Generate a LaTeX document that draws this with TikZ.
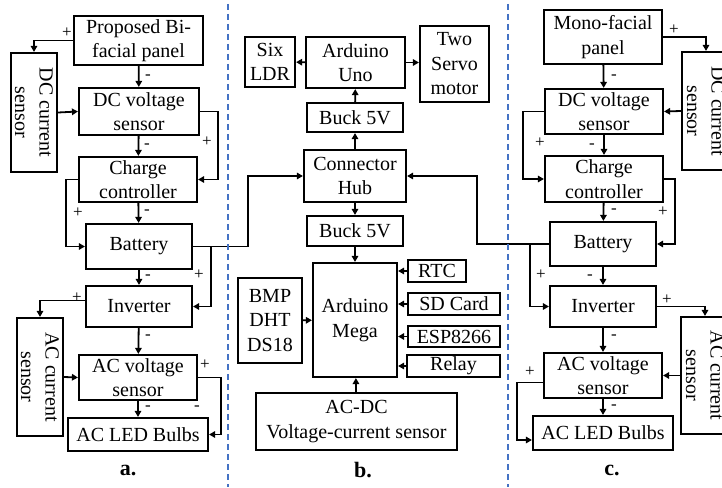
\documentclass[tikz,border=0pt]{standalone}
\usepackage{fontspec}
\setmainfont{Liberation Serif}
\usepackage{xcolor}
\usepackage{tikz}
\usetikzlibrary{arrows.meta, positioning, calc}
\definecolor{sepblue}{RGB}{68, 114, 196}
\tikzstyle{blk} = [rectangle, draw=black, line width=2.2pt, inner sep=0pt, align=center, font=\fontsize{20}{24.5}\selectfont]
\tikzstyle{sensv} = [blk, rotate=-90]
\tikzstyle{pm} = [inner sep=0pt, font=\fontsize{17}{17}\selectfont]
\tikzstyle{paneltag} = [inner sep=0pt, font=\bfseries\fontsize{22}{22}\selectfont]
\tikzstyle{arrow} = [-{Triangle[length=6pt, width=6.5pt]}, line width=1.8pt]
\tikzstyle{sepline} = [draw=sepblue, line width=1.6pt, dash pattern=on 6pt off 4pt]

\begin{document}
\begin{tikzpicture}[x=1pt, y=-1pt]
    \useasboundingbox (0,0) rectangle (722,487);
    \clip (0,0) rectangle (722,487);

    % a. bifacial panel chain
    \node[blk, minimum width=129, minimum height=49] (pva) at (138.5,40.5) {Proposed Bi-\\facial panel};
    \node[sensv, minimum width=119, minimum height=46] (dcia) at (34,112.5) {DC current\\sensor};
    \node[blk, minimum width=120, minimum height=47] (dcva) at (139,111.5) {DC voltage\\sensor};
    \node[blk, minimum width=118, minimum height=45] (cca) at (138,179.5) {Charge\\controller};
    \node[blk, minimum width=106, minimum height=45] (bata) at (139,246.5) {Battery};
    \node[blk, minimum width=106, minimum height=41] (inva) at (139,306.5) {Inverter};
    \node[sensv, minimum width=118, minimum height=46] (acia) at (40,377) {AC current\\sensor};
    \node[blk, minimum width=118, minimum height=45] (acva) at (138,377.5) {AC voltage\\sensor};
    \node[blk, minimum width=140, minimum height=33] (leda) at (138,434.5) {AC LED Bulbs};
    \node[paneltag] (capa) at (128,470) {a.};

    % rotated sensors: west = top edge, north = right edge
    \draw[arrow] (pva.west) -| (dcia.west);
    \draw[arrow] (pva) -- (dcva);
    \draw[arrow] (dcia.north) -- (dcva.west);
    \draw[arrow] (dcva.east) -- ++(18,0) |- (cca.east);
    \draw[arrow] (dcva) -- (cca);
    \draw[arrow] (cca.west) -- ++(-12,0) |- (bata.west);
    \draw[arrow] (cca) -- (bata);
    \draw[arrow] (bata.east) -- ++(18,0) |- (inva.east);
    \draw[arrow] (bata) -- (inva);
    \draw[arrow] ([yshift=6pt]inva.west) -| (acia.west);
    \draw[arrow] (inva) -- (acva);
    \draw[arrow] (acia.north) -- (acva.west);
    \draw[arrow] (acva.east) -- ++(23,0) |- (leda.east);
    \draw[arrow] (acva) -- (leda);

    \node[pm] (pa1) at (67,33) {+};
    \node[pm] (pa2) at (148,77) {-};
    \node[pm] (pa3) at (207,142) {+};
    \node[pm] (pa4) at (147,146) {-};
    \node[pm] (pa5) at (78,213) {+};
    \node[pm] (pa6) at (147,212) {-};
    \node[pm] (pa7) at (148,277) {-};
    \node[pm] (pa8) at (199,275) {+};
    \node[pm] (pa9) at (77,298) {+};
    \node[pm] (pa10) at (148,337) {-};
    \node[pm] (pa11) at (205,365) {+};
    \node[pm] (pa12) at (148,408) {-};
    \node[pm] (pa13) at (197,408) {-};

    % b. monitoring and tracking
    \node[blk, minimum width=50, minimum height=50] (ldr) at (270,62) {Six\\LDR};
    \node[blk, minimum width=99, minimum height=51] (uno) at (355.5,62.5) {Arduino\\Uno};
    \node[blk, minimum width=69, minimum height=76] (servo) at (454.5,64) {Two\\Servo\\motor};
    \node[blk, minimum width=96, minimum height=29] (bucka) at (355,117.5) {Buck 5V};
    \node[blk, minimum width=102, minimum height=52] (hub) at (355,176) {Connector\\Hub};
    \node[blk, minimum width=96, minimum height=30] (buckb) at (355,231) {Buck 5V};
    \node[blk, minimum width=84, minimum height=114] (mega) at (355,320) {Arduino\\Mega};
    \node[blk, minimum width=64, minimum height=85] (bmp) at (270,320.5) {BMP\\DHT\\DS18};
    \node[blk, minimum width=58, minimum height=22] (rtc) at (437,271) {RTC};
    \node[blk, minimum width=92, minimum height=22] (sd) at (454,304) {SD Card};
    \node[blk, minimum width=92, minimum height=21] (esp) at (454,336.5) {ESP8266};
    \node[blk, minimum width=93, minimum height=22] (relay) at (453.5,366) {Relay};
    \node[blk, minimum width=201, minimum height=57] (acdc) at (356.5,421.5) {AC-DC\\Voltage-current sensor};
    \node[paneltag] (capb) at (363,470) {b.};

    \draw[arrow] (uno) -- (ldr);
    \draw[arrow] (uno) -- (servo.west |- uno.east);
    \draw[arrow] (bucka) -- (uno);
    \draw[arrow] (hub) -- (bucka);
    \draw[arrow] (hub) -- (buckb);
    \draw[arrow] (buckb) -- (mega);
    \draw[arrow] (bmp) -- (mega);
    \draw[arrow] (rtc.west) -- (rtc.west -| mega.east);
    \draw[arrow] (sd.west) -- (sd.west -| mega.east);
    \draw[arrow] (esp.west) -- (esp.west -| mega.east);
    \draw[arrow] (relay.west) -- (relay.west -| mega.east);
    \draw[arrow] (acdc) -- (mega);

    % c. monofacial panel chain
    \node[blk, minimum width=118, minimum height=54] (pvc) at (603,37) {Mono-facial\\panel};
    \node[sensv, minimum width=118, minimum height=48] (dcic) at (706,111) {DC current\\sensor};
    \node[blk, minimum width=118, minimum height=45] (dcvc) at (604,111.5) {DC voltage\\sensor};
    \node[blk, minimum width=118, minimum height=46] (ccc) at (604,179) {Charge\\controller};
    \node[blk, minimum width=106, minimum height=44] (batc) at (603,244) {Battery};
    \node[blk, minimum width=106, minimum height=41] (invc) at (603,306.5) {Inverter};
    \node[sensv, minimum width=117, minimum height=48] (acic) at (705,375.5) {AC current\\sensor};
    \node[blk, minimum width=118, minimum height=45] (acvc) at (603,375.5) {AC voltage\\sensor};
    \node[blk, minimum width=140, minimum height=34] (ledc) at (603,433) {AC LED Bulbs};
    \node[paneltag] (capc) at (612,470) {c.};

    % rotated sensors: west = top edge, south = left edge
    \draw[arrow] (pvc.east) -| (dcic.west);
    \draw[arrow] (pvc) -- (dcvc);
    \draw[arrow] (dcic.south) -- (dcvc.east);
    \draw[arrow] (dcvc.west) -- ++(-21,0) |- (ccc.west);
    \draw[arrow] (dcvc) -- (ccc);
    \draw[arrow] (ccc.east) -- ++(11,0) |- (batc.east);
    \draw[arrow] (ccc) -- (batc);
    \draw[arrow] (batc.west) -- ++(-19,0) |- (invc.west);
    \draw[arrow] (batc) -- (invc);
    \draw[arrow] (invc.east) -| (acic.west);
    \draw[arrow] (invc) -- (acvc);
    \draw[arrow] (acic.south) -- (acvc.east);
    \draw[arrow] ([yshift=-7pt]acvc.west) -- ++(-26,0) |- ([yshift=-7pt]ledc.west);
    \draw[arrow] (acvc) -- (ledc);

    \node[pm] (pc1) at (674,30) {+};
    \node[pm] (pc2) at (614,77) {-};
    \node[pm] (pc3) at (540,143) {+};
    \node[pm] (pc4) at (592,146) {-};
    \node[pm] (pc5) at (614,211) {-};
    \node[pm] (pc6) at (663,212) {+};
    \node[pm] (pc7) at (541,275) {+};
    \node[pm] (pc8) at (590,277) {-};
    \node[pm] (pc9) at (667,300) {+};
    \node[pm] (pc10) at (614,337) {-};
    \node[pm] (pc11) at (530,372) {+};
    \node[pm] (pc12) at (614,407) {-};

    % batteries to connector hub
    \draw[arrow] (bata.east) -- ++(55,0) |- (hub.west);
    \draw[arrow] (batc.west) -- ++(-72,0) |- (hub.east);

    % panel separators
    \draw[sepline] (228,4) -- (228,487);
    \draw[sepline] (508,4) -- (508,487);
\end{tikzpicture}
\end{document}
